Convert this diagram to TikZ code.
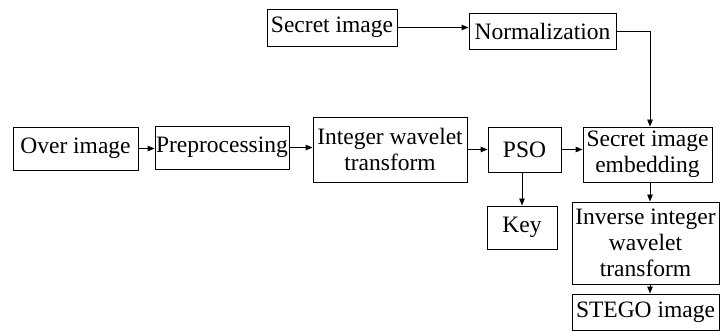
\documentclass[tikz,border=0pt]{standalone}
\usepackage{fontspec}
\setmainfont{Liberation Serif}
\newfontfamily\boxfont{Liberation Serif}
\usetikzlibrary{arrows.meta}
\begin{document}
\begin{tikzpicture}[x=1pt,y=-1pt,
  blk/.style={draw, line width=0.9pt, inner sep=0pt, align=center,
    font=\boxfont\fontsize{23.5}{26}\selectfont},
  link/.style={draw, line width=0.9pt, -{Triangle[length=7pt,width=5.5pt]}}]
\useasboundingbox (0,0) rectangle (720,331);
% main row
\node[blk, minimum width=125pt, minimum height=43pt] (over) at (75.5,148.5) {Over image};
\node[blk, minimum width=134pt, minimum height=43pt] (pre) at (222,147.5) {Preprocessing};
\node[blk, minimum width=154pt, minimum height=65pt] (iwt) at (390,149.5) {Integer wavelet\\transform};
\node[blk, minimum width=73pt, minimum height=45pt] (pso) at (524.5,149.5) {PSO};
\node[blk, minimum width=129pt, minimum height=55pt] (emb) at (647.5,154.5) {Secret image\\embedding};
% top row
\node[blk, minimum width=130pt, minimum height=37pt] (sec) at (332,27.5) {Secret image};
\node[blk, minimum width=147pt, minimum height=36pt] (norm) at (542.5,31) {Normalization};
% lower nodes
\node[blk, minimum width=70pt, minimum height=43pt] (key) at (522,227.5) {Key};
\node[blk, minimum width=147pt, minimum height=82pt] (inv) at (645.5,243) {Inverse integer\\wavelet\\transform};
\node[blk, minimum width=147pt, minimum height=36pt] (stego) at (645.5,312) {STEGO image};
\coordinate (turn) at (650,31);
% connectors
\draw[link] (over.east) -- (over.east -| pre.west);
\draw[link] (pre.east) -- (pre.east -| iwt.west);
\draw[link] (iwt.east) -- (iwt.east -| pso.west);
\draw[link] (pso.east) -- (pso.east -| emb.west);
\draw[link] (sec.east) -- (sec.east -| norm.west);
\draw[link] (norm.east) -- (turn) -- (turn |- emb.north);
\draw[link] (pso.south -| key.north) -- (key.north);
\draw[link] (emb.south -| turn) -- (inv.north -| turn);
\draw[link] (inv.south -| turn) -- (stego.north -| turn);
\end{tikzpicture}
\end{document}
